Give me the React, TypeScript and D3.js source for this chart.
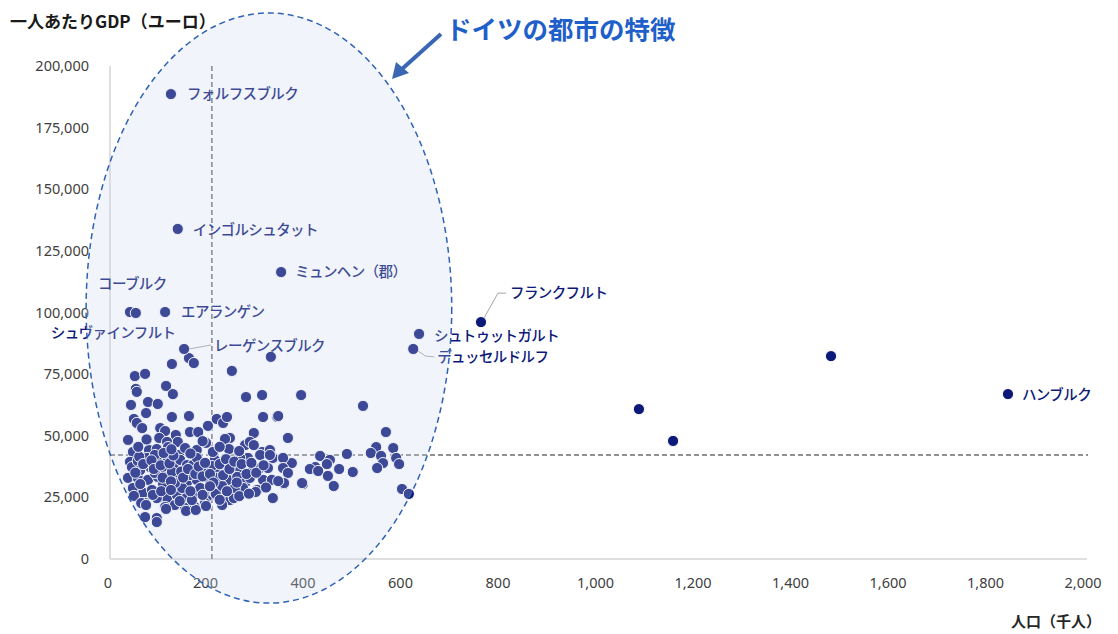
import React from "react";
import * as d3 from "d3";

const W = 1118;
const H = 634;

const X_TICKS = [0, 200, 400, 600, 800, 1000, 1200, 1400, 1600, 1800, 2000];
const Y_TICKS = [0, 25000, 50000, 75000, 100000, 125000, 150000, 175000, 200000];

// reference lines: average GDP per head, median population
const AVG_GDP = 42200;
const MID_POP = 209;

// named cities: population (thousand), GDP per head (euro)
const namedCities = [
  { name: "フォルフスブルク", pop: 125, gdp: 188600 },
  { name: "インゴルシュタット", pop: 139, gdp: 133900 },
  { name: "ミュンヘン（郡）", pop: 351, gdp: 116400 },
  { name: "コーブルク", pop: 41, gdp: 100200 },
  { name: "シュヴァインフルト", pop: 53, gdp: 99800 },
  { name: "エアランゲン", pop: 113, gdp: 100200 },
  { name: "レーゲンスブルク", pop: 152, gdp: 85200 },
  { name: "シュトゥットガルト", pop: 634, gdp: 91300 },
  { name: "デュッセルドルフ", pop: 622, gdp: 85200 },
  { name: "フランクフルト", pop: 761, gdp: 96100 },
  { name: "ハンブルク", pop: 1842, gdp: 66900 },
];

// other large cities without labels
const bigCities = [
  [1085, 60800],
  [1155, 47900],
  [1479, 82300],
];

// remaining districts [pop, gdp]
const districts = [
  [51, 74200], [72, 75100], [115, 70200], [53, 69000], [127, 79100], [162, 81500],
  [172, 79500], [250, 76300], [330, 82000], [129, 66900], [55, 67800], [78, 63700],
  [98, 62900], [43, 62500], [74, 59200], [279, 65700], [312, 66500], [127, 57600],
  [162, 58000], [49, 56800], [55, 55200], [66, 53100], [103, 53100], [113, 51900],
  [135, 50300], [139, 47500], [164, 51500], [181, 51500], [201, 54000], [219, 56800],
  [232, 55200], [240, 57600], [246, 49100], [314, 57600], [343, 57600], [295, 51100],
  [277, 46200], [287, 47500], [312, 43400], [328, 44200], [37, 48300], [47, 43400],
  [101, 49100], [117, 47500], [119, 45400], [80, 44200], [96, 44600], [142, 42200],
  [178, 44200], [197, 47100], [236, 48700], [244, 44600], [295, 46200], [308, 42200],
  [334, 41000], [41, 39400], [45, 37300], [57, 39800], [76, 41000], [82, 37300],
  [98, 39400], [113, 36100], [119, 40200], [133, 37300], [144, 40200], [158, 38100],
  [170, 38100], [178, 41000], [189, 36100], [201, 36100], [215, 40200], [222, 36100],
  [240, 34900], [250, 37300], [267, 36100], [283, 41000], [293, 36100], [308, 36900],
  [324, 36900], [37, 32900], [57, 32900], [78, 32100], [98, 33300], [117, 33300],
  [137, 32900], [158, 31200], [178, 32100], [201, 32900], [219, 32900], [242, 32100],
  [261, 33300], [277, 30800], [302, 28000], [314, 32100], [332, 32100], [47, 28800],
  [68, 26800], [86, 28000], [103, 25200], [117, 24700], [137, 26000], [158, 25200],
  [178, 26800], [199, 25200], [215, 26800], [236, 26000], [252, 25200], [273, 28800],
  [72, 22700], [96, 24700], [113, 21100], [133, 21900], [154, 20700], [174, 21100],
  [195, 22700], [334, 24700], [96, 16600], [72, 17000], [96, 15000], [115, 20300],
  [156, 19500], [176, 19900], [197, 21500], [217, 26400], [246, 23900], [254, 24700],
  [299, 27200], [357, 30400], [396, 30400], [459, 29600], [599, 28400], [613, 26400],
  [49, 25600], [64, 22700], [74, 21900], [392, 66500], [519, 62100], [345, 58000],
  [365, 49100], [566, 51500], [546, 45400], [535, 43000], [581, 45000], [556, 41800],
  [587, 41000], [593, 38500], [560, 38900], [548, 36900], [431, 41800], [451, 40200],
  [445, 38500], [421, 37300], [410, 36500], [427, 35700], [470, 36500], [498, 35300],
  [447, 33700], [486, 42600], [373, 38900], [355, 41000], [355, 36900], [365, 34900],
  [357, 30800], [345, 31600], [394, 30800], [328, 42200], [62, 36100], [92, 34900],
  [127, 35300], [164, 34100], [209, 37700], [230, 29600], [148, 28800], [109, 30400],
  [185, 28800], [256, 28800], [287, 32900], [62, 30400], [168, 23900], [230, 21900],
  [133, 30800], [92, 42200], [211, 43400], [267, 41000], [154, 45000],
  [52, 35000], [60, 41500], [68, 38500], [85, 40000], [90, 36500], [104, 38000],
  [108, 33000], [122, 38800], [125, 31500], [130, 42000], [146, 35500], [150, 33000],
  [160, 36500], [165, 42800], [175, 34500], [182, 37500], [190, 33500], [195, 39000],
  [205, 34500], [212, 31000], [225, 38500], [232, 34000], [238, 40500], [245, 36500],
  [255, 39500], [260, 31000], [270, 38500], [280, 34500], [290, 39000], [300, 35000],
  [315, 38000], [320, 29000], [88, 26000], [105, 27500], [125, 28000], [143, 23500],
  [165, 27500], [190, 26000], [205, 29500], [225, 24000], [240, 27500], [265, 25500],
  [285, 26500], [58, 45500], [110, 43000], [126, 44500], [190, 47800], [225, 45500],
  [265, 43800], [75, 48500],
];

// annotation ellipse, in data units
const ELLIPSE = { pop: 326, gdp: 101800, rPop: 375, rGdp: 119700 };

// label placement (pixels relative to the dot) and optional leader lines
const labelOffsets: Record<string, { dx: number; dy: number; leader?: number[][] }> = {
  "フォルフスブルク": { dx: 16, dy: 0 },
  "インゴルシュタット": { dx: 15, dy: 1 },
  "ミュンヘン（郡）": { dx: 14, dy: 0 },
  "コーブルク": { dx: -32, dy: -28 },
  "シュヴァインフルト": { dx: -85, dy: 20 },
  "エアランゲン": { dx: 16, dy: 0 },
  "レーゲンスブルク": { dx: 30, dy: -3, leader: [[5, 0], [27, -4]] },
  "シュトゥットガルト": { dx: 15, dy: 2 },
  "デュッセルドルフ": { dx: 24, dy: 8, leader: [[5, 2], [12, 7], [21, 8]] },
  "フランクフルト": { dx: 29, dy: -29, leader: [[3, -4], [17, -29], [25, -29]] },
  "ハンブルク": { dx: 14, dy: 1 },
};

const NAVY = "#0d1978";
const JP = "'Noto Sans CJK JP', 'Noto Sans', sans-serif";
const NUM = "'Noto Sans', 'DejaVu Sans', sans-serif";

export default function App() {
  const x = d3.scaleLinear().domain([0, 2000]).range([110, 1085]);
  const y = d3.scaleLinear().domain([0, 200000]).range([559, 66]);
  const fmt = d3.format(",");
  const line = d3.line();

  const ex = x(ELLIPSE.pop);
  const ey = y(ELLIPSE.gdp);
  const erx = x(ELLIPSE.rPop) - x(0);
  const ery = y(0) - y(ELLIPSE.rGdp);

  const allDots = [
    ...districts.map(([p, g]) => ({ p, g })),
    ...bigCities.map(([p, g]) => ({ p, g })),
    ...namedCities.map((c) => ({ p: c.pop, g: c.gdp })),
  ];

  return (
    <svg
      width={W}
      height={H}
      style={{ position: "absolute", left: 0, top: 0, background: "#fff" }}
    >
      {/* axes */}
      <line x1={x(0)} x2={x(0)} y1={y(200000)} y2={y(0)} stroke="#d4d4d4" strokeWidth={1.5} />
      <line x1={x(0)} x2={x(2000) + 2} y1={y(0)} y2={y(0)} stroke="#d4d4d4" strokeWidth={1.5} />

      {Y_TICKS.map((t) => (
        <text
          key={"y" + t}
          x={89}
          y={y(t)}
          dy="0.35em"
          textAnchor="end"
          fontFamily={NUM}
          fontSize={14.5}
          fill="#404040"
        >
          {fmt(t)}
        </text>
      ))}
      {X_TICKS.map((t) => (
        <text
          key={"x" + t}
          x={x(t) - 2}
          y={588}
          textAnchor="middle"
          fontFamily={NUM}
          fontSize={14.5}
          fill="#404040"
        >
          {fmt(t)}
        </text>
      ))}

      {/* reference lines */}
      <line
        x1={x(0)}
        x2={x(2000) + 3}
        y1={y(AVG_GDP)}
        y2={y(AVG_GDP)}
        stroke="#6e6e6e"
        strokeWidth={1.5}
        strokeDasharray="5,3"
      />
      <line
        x1={x(MID_POP)}
        x2={x(MID_POP)}
        y1={y(200000)}
        y2={y(0)}
        stroke="#6e6e6e"
        strokeWidth={1.5}
        strokeDasharray="5,3"
      />

      {/* points */}
      {allDots.map((d, i) => (
        <circle
          key={i}
          cx={x(d.p)}
          cy={y(d.g)}
          r={5.6}
          fill={NAVY}
          stroke="#fff"
          strokeWidth={1}
        />
      ))}

      {/* labels */}
      {namedCities.map((c) => {
        const o = labelOffsets[c.name];
        const cx = x(c.pop);
        const cy = y(c.gdp);
        return (
          <g key={c.name}>
            {o.leader && (
              <path
                d={line(o.leader.map(([a, b]) => [cx + a, cy + b]))}
                fill="none"
                stroke="#a6a6a6"
                strokeWidth={1}
              />
            )}
            <text
              x={cx + o.dx}
              y={cy + o.dy}
              dy="0.36em"
              fontFamily={JP}
              fontWeight={500}
              fontSize={14.5}
              letterSpacing={-0.6}
              fill={NAVY}
            >
              {c.name}
            </text>
          </g>
        );
      })}

      {/* highlight ellipse over the cluster */}
      <ellipse
        cx={ex}
        cy={ey}
        rx={erx}
        ry={ery}
        fill="rgb(200,214,236)"
        fillOpacity={0.26}
        stroke="#2f62b5"
        strokeWidth={1.5}
        strokeDasharray="6,4"
      />

      {/* titles */}
      <text x={10} y={22} dy="0.35em" fontFamily={JP} fontWeight={700} fontSize={17} fill="#1a1a1a">
        一人あたりGDP（ユーロ）
      </text>
      <text
        x={1101}
        y={622}
        dy="0.35em"
        textAnchor="end"
        fontFamily={JP}
        fontWeight={700}
        fontSize={15}
        fill="#262626"
      >
        人口（千人）
      </text>
      <text x={446} y={30} dy="0.36em" fontFamily={JP} fontWeight={700} fontSize={25.5} fill="#1f5fc9">
        ドイツの都市の特徴
      </text>

      {/* arrow to the ellipse */}
      <line x1={441} y1={34} x2={402} y2={69} stroke="#3a66b4" strokeWidth={4} />
      <path d="M392,79 L396,62 L409,73 Z" fill="#3a66b4" />
    </svg>
  );
}
